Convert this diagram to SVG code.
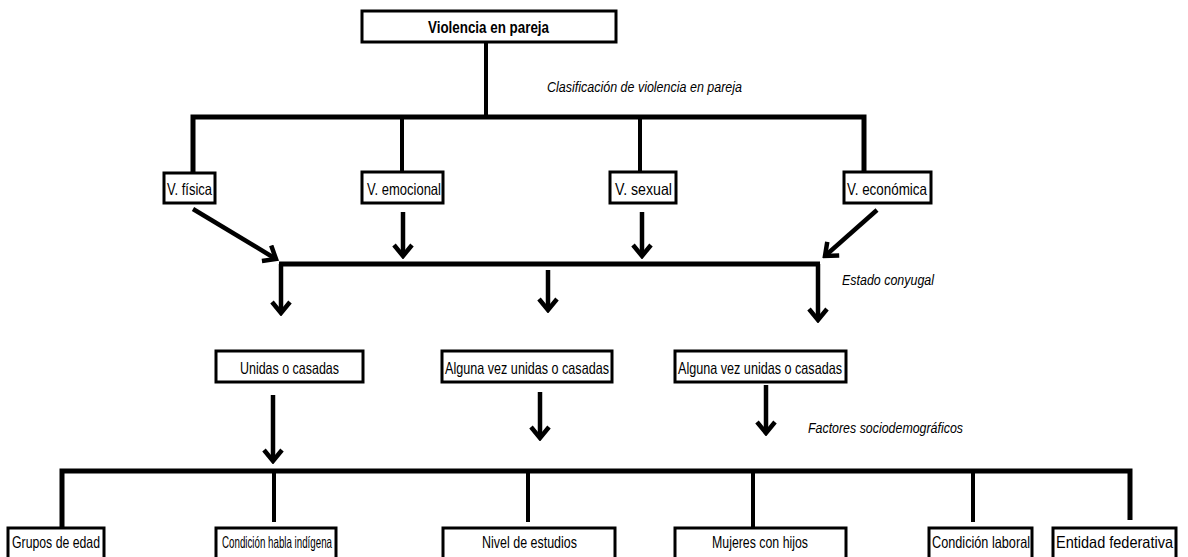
<svg xmlns="http://www.w3.org/2000/svg" width="1188" height="557" viewBox="0 0 1188 557">
<style>
.box{fill:#fff;stroke:#000;stroke-width:3}
.t{font-family:"Liberation Sans",Arial,sans-serif;font-size:16.5px;fill:#000}
.b{font-weight:bold;font-size:16.5px}
.i{font-style:italic;font-size:15.5px}
.ln{stroke:#000;stroke-width:4;fill:none}
.bar{stroke:#000;stroke-width:5;fill:none}
.ar{stroke:#000;stroke-width:4.5;fill:none;marker-end:url(#ah)}
</style>
<defs>
<marker id="ah" markerUnits="userSpaceOnUse" viewBox="0 0 16 22" markerWidth="16" markerHeight="22" refX="13" refY="11" orient="auto">
<path d="M2,2 L13,11 L2,20" fill="none" stroke="#000" stroke-width="4.5" stroke-linejoin="miter"/>
</marker>
</defs>
<rect width="1188" height="557" fill="#fff"/>
<g id="connectors">
<line class="ln" x1="486" y1="42" x2="486" y2="117"/>
<polyline class="bar" points="193,173 193,117 864,117 864,173"/>
<line class="ln" x1="402" y1="117" x2="402" y2="172"/>
<line class="ln" x1="640" y1="117" x2="640" y2="172"/>
<line class="ar" x1="193" y1="209" x2="276" y2="259"/>
<line class="ar" x1="403" y1="212" x2="403" y2="256"/>
<line class="ar" x1="642" y1="212" x2="642" y2="256"/>
<line class="ar" x1="877" y1="210" x2="825" y2="256"/>
<line class="bar" x1="279" y1="264" x2="820" y2="264"/>
<line class="ar" x1="281" y1="264" x2="281" y2="313"/>
<line class="ar" x1="818" y1="264" x2="818" y2="320"/>
<line class="ar" x1="548" y1="270" x2="548" y2="310"/>
<line class="ar" x1="273" y1="395" x2="273" y2="461"/>
<line class="ar" x1="540" y1="392" x2="540" y2="438"/>
<line class="ar" x1="766" y1="385" x2="766" y2="433"/>
<polyline class="bar" points="62,528 62,471 1130,471 1130,520"/>
<line class="ln" x1="274" y1="471" x2="274" y2="522"/>
<line class="ln" x1="528" y1="471" x2="528" y2="522"/>
<line class="ln" x1="753" y1="471" x2="753" y2="528"/>
<line class="ln" x1="973" y1="471" x2="973" y2="522"/>
</g>
<g id="lbl-clasif"><text class="t i" x="547" y="92" textLength="195" lengthAdjust="spacingAndGlyphs">Clasificación de violencia en pareja</text></g>
<g id="lbl-estado"><text class="t i" x="842" y="285" textLength="92" lengthAdjust="spacingAndGlyphs">Estado conyugal</text></g>
<g id="lbl-factores"><text class="t i" x="808" y="433" textLength="155" lengthAdjust="spacingAndGlyphs">Factores sociodemográficos</text></g>
<g id="n-violencia"><rect class="box" x="362" y="11" width="254" height="31"/><text class="t b" x="428" y="33" textLength="121" lengthAdjust="spacingAndGlyphs">Violencia en pareja</text></g>
<g id="n-fisica"><rect class="box" x="164" y="173" width="51" height="30"/><text class="t" x="167" y="195" textLength="45" lengthAdjust="spacingAndGlyphs">V. física</text></g>
<g id="n-emocional"><rect class="box" x="362" y="172" width="81" height="31"/><text class="t" x="367" y="195" textLength="74" lengthAdjust="spacingAndGlyphs">V. emocional</text></g>
<g id="n-sexual"><rect class="box" x="610" y="172" width="66" height="31"/><text class="t" x="615" y="195" textLength="57" lengthAdjust="spacingAndGlyphs">V. sexual</text></g>
<g id="n-economica"><rect class="box" x="844" y="172" width="87" height="31"/><text class="t" x="847" y="195" textLength="80" lengthAdjust="spacingAndGlyphs">V. económica</text></g>
<g id="n-unidas"><rect class="box" x="216" y="351" width="147" height="31"/><text class="t" x="240" y="374" textLength="99" lengthAdjust="spacingAndGlyphs">Unidas o casadas</text></g>
<g id="n-alguna1"><rect class="box" x="442" y="351" width="170" height="31"/><text class="t" x="445" y="374" textLength="164" lengthAdjust="spacingAndGlyphs">Alguna vez unidas o casadas</text></g>
<g id="n-alguna2"><rect class="box" x="675" y="351" width="171" height="31"/><text class="t" x="678" y="374" textLength="164" lengthAdjust="spacingAndGlyphs">Alguna vez unidas o casadas</text></g>
<g id="n-grupos"><rect class="box" x="8" y="528" width="96" height="34"/><text class="t" x="12" y="548" textLength="88" lengthAdjust="spacingAndGlyphs">Grupos de edad</text></g>
<g id="n-habla"><rect class="box" x="216" y="528" width="120" height="34"/><text class="t" x="222" y="548" textLength="110" lengthAdjust="spacingAndGlyphs">Condición habla indígena</text></g>
<g id="n-nivel"><rect class="box" x="443" y="528" width="172" height="34"/><text class="t" x="482" y="548" textLength="95" lengthAdjust="spacingAndGlyphs">Nivel de estudios</text></g>
<g id="n-mujeres"><rect class="box" x="675" y="528" width="171" height="34"/><text class="t" x="712" y="548" textLength="96" lengthAdjust="spacingAndGlyphs">Mujeres con hijos</text></g>
<g id="n-laboral"><rect class="box" x="929" y="528" width="103" height="34"/><text class="t" x="932" y="548" textLength="98" lengthAdjust="spacingAndGlyphs">Condición laboral</text></g>
<g id="n-entidad"><rect class="box" x="1053" y="528" width="123" height="34"/><text class="t" x="1056" y="548" textLength="117" lengthAdjust="spacingAndGlyphs">Entidad federativa</text></g>
</svg>
